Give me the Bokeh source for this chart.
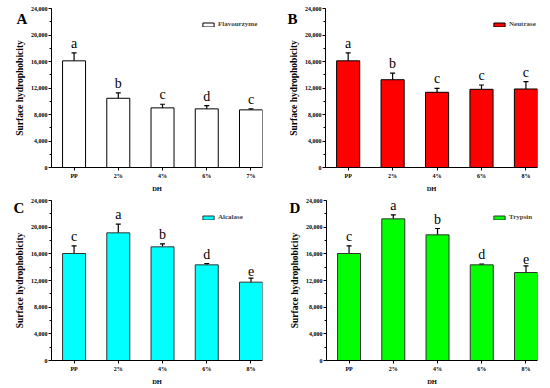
from bokeh.plotting import figure
from bokeh.layouts import column, row
from bokeh.models import (ColumnDataSource, Range1d, Whisker, TeeHead, Legend, LegendItem,
                          Label, SingleIntervalTicker, FixedTicker, NumeralTickFormatter)
from bokeh.core.properties import value
from bokeh.embed import file_html
from bokeh.resources import INLINE

# ---------------- data ----------------
cats_A = ["PP", "2%", "4%", "6%", "7%"]
vals_A = [16100, 10450, 9000, 8850, 8700]
err_A = [1200, 800, 550, 500, 150]
letters_A = ["a", "b", "c", "d", "c"]

cats_B = ["PP", "2%", "4%", "6%", "8%"]
vals_B = [16100, 13250, 11350, 11800, 11850]
err_B = [1200, 1000, 600, 650, 1100]
letters_B = ["a", "b", "c", "c", "c"]

cats_C = ["PP", "2%", "4%", "6%", "8%"]
vals_C = [16050, 19150, 17050, 14350, 11750]
err_C = [1150, 1300, 450, 200, 600]
letters_C = ["c", "a", "b", "d", "e"]

cats_D = ["PP", "2%", "4%", "6%", "8%"]
vals_D = [16050, 21250, 18850, 14350, 13200]
err_D = [1150, 600, 950, 100, 1000]
letters_D = ["c", "a", "b", "d", "e"]

y_ticks_interval = 4000
y_max = 24000

SERIF = "Liberation Serif"
W, H = 275, 194
X_START, X_END = -0.51, 4.26


def make_panel(cats, vals, errs, letters, color, outline, name, panel_letter,
               top_b, bottom_b, legend_x, letter_off):
    n = len(cats)
    xs = list(range(n))
    src = ColumnDataSource(dict(
        x=xs, top=vals,
        upper=[v + e for v, e in zip(vals, errs)],
        lower=[v - e for v, e in zip(vals, errs)],
        lab=letters))
    p = figure(width=W, height=H, output_backend="svg", toolbar_location=None,
               x_range=Range1d(X_START, X_END), y_range=Range1d(0, y_max),
               min_border=0, min_border_left=41, min_border_right=13,
               min_border_top=top_b, min_border_bottom=bottom_b)
    p.outline_line_color = None
    p.xgrid.grid_line_color = None
    p.ygrid.grid_line_color = None

    r = p.vbar(x="x", top="top", width=0.52, source=src, fill_color=color,
               line_color=outline, line_width=1)
    wh = Whisker(base="x", upper="upper", lower="lower", source=src,
                 line_color="black", line_width=1.2,
                 upper_head=TeeHead(size=5, line_color="black", line_width=1.2),
                 lower_head=TeeHead(size=5, line_color="black", line_width=1.2))
    p.add_layout(wh)
    p.text(x="x", y="upper", text="lab", source=src, text_align="center",
           text_baseline="bottom", y_offset=-2, text_font=value(SERIF),
           text_font_size="14px", text_color="black")

    # axes
    p.yaxis.ticker = SingleIntervalTicker(interval=y_ticks_interval, num_minor_ticks=2)
    p.yaxis.formatter = NumeralTickFormatter(format="0,0")
    p.xaxis.ticker = FixedTicker(ticks=xs)
    p.xaxis.major_label_overrides = {i: c for i, c in enumerate(cats)}
    for ax in (p.xaxis[0], p.yaxis[0]):
        ax.axis_line_color = "black"
        ax.axis_line_width = 1
        ax.major_tick_line_color = "black"
        ax.minor_tick_line_color = "black"
        ax.major_tick_in = 0
        ax.major_tick_out = 3
        ax.minor_tick_in = 0
        ax.minor_tick_out = 2
        ax.major_label_text_font = SERIF
        ax.major_label_text_font_style = "bold"
        ax.major_label_text_color = "black"
        ax.axis_label_text_font = SERIF
        ax.axis_label_text_font_style = "bold"
        ax.axis_label_text_color = "black"
        ax.major_label_standoff = 1
        ax.axis_label_standoff = 3
    p.xaxis.minor_tick_line_color = None
    p.xaxis.major_label_standoff = 2
    p.yaxis.major_label_text_font_size = "6px"
    p.xaxis.major_label_text_font_size = "6px"
    p.yaxis.axis_label = "Surface hydrophobicity"
    p.yaxis.axis_label_text_font_size = "9.5px"
    p.xaxis.axis_label = "DH"
    p.xaxis.axis_label_text_font_size = "6.5px"
    p.xaxis.axis_label_standoff = 3

    frame_h = H - top_b - bottom_b
    leg = Legend(items=[LegendItem(label=name, renderers=[r])],
                 location=(legend_x, frame_h - 21),
                 padding=0, margin=0, spacing=0, border_line_color=None,
                 background_fill_alpha=0, glyph_width=14, glyph_height=5,
                 label_standoff=3, label_height=5, label_text_font=SERIF,
                 label_text_font_style="bold", label_text_font_size="7px")
    p.add_layout(leg)

    p.add_layout(Label(x=X_START, y=y_max, x_offset=letter_off[0], y_offset=letter_off[1],
                       text=panel_letter, text_font=SERIF, text_font_style="bold",
                       text_font_size="15px", text_baseline="alphabetic", text_align="left",
                       text_color="black"), "left")
    return p


pA = make_panel(cats_A, vals_A, err_A, letters_A, "white", "black", "Flavourzyme", "A",
                8, 26, 150, (-35, -10))
pB = make_panel(cats_B, vals_B, err_B, letters_B, "#FF0000", "black", "Neutrase", "B",
                8, 26, 167, (-38, -10))
pC = make_panel(cats_C, vals_C, err_C, letters_C, "#00FFFF", "#333333", "Alcalase", "C",
                6, 28, 150, (-38, -7))
pD = make_panel(cats_D, vals_D, err_D, letters_D, "#00FF00", "#333333", "Trypsin", "D",
                6, 28, 166, (-37, -7))

layout = column(row(pA, pB), row(pC, pD))
open("out.html", "w").write(file_html(layout, INLINE))
